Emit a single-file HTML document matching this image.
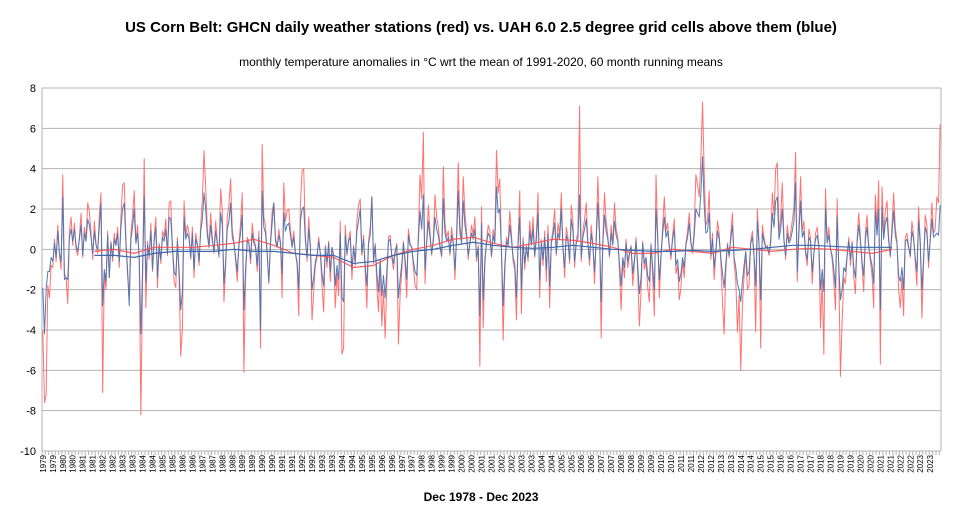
<!DOCTYPE html>
<html><head><meta charset="utf-8"><style>
body{margin:0;background:#fff;}
svg{display:block;font-family:"Liberation Sans",sans-serif;}
</style></head><body>
<svg id="chart" width="962" height="520" viewBox="0 0 962 520">
<text x="481" y="32" text-anchor="middle" font-size="15" font-weight="bold">US Corn Belt: GHCN daily weather stations (red) vs. UAH 6.0 2.5 degree grid cells above them (blue)</text>
<text x="481" y="66" text-anchor="middle" font-size="12">monthly temperature anomalies in °C wrt the mean of 1991-2020, 60 month running means</text>
<text x="481" y="501" text-anchor="middle" font-size="12" font-weight="bold">Dec 1978 - Dec 2023</text>
<g id="grid"></g>
<g id="yticks"></g>
<g id="xticks"></g>
<g id="series"></g>
</svg>
<script>
const yTicks=[8,6,4,2,0,-2,-4,-6,-8,-10];
const redRows=[
[-4.0],
[-7.6,-7.2,-1.8,-2.4,-0.8,-0.9,0.5,-0.6,1.2,-0.3,-1.0,3.7],
[-1.2,-1.4,-2.7,0.9,1.6,0.2,1.3,0.0,-0.3,0.6,1.8,-0.4],
[1.1,0.5,2.3,1.9,0.8,-0.5,1.4,0.3,-0.2,1.7,2.8,-7.1],
[-1.2,-2.0,0.9,-1.4,0.4,-0.6,0.8,0.2,1.1,-0.9,1.6,3.2],
[3.3,0.5,-1.3,-2.4,0.8,1.7,2.9,0.4,1.2,-0.6,-8.2,-1.8],
[4.5,-2.9,0.4,-0.5,1.3,-1.1,0.6,1.6,-1.9,0.3,-0.7,0.9],
[0.6,1.5,-0.3,2.3,2.4,0.1,-1.6,-1.9,0.6,-1.5,-5.3,-3.9],
[2.4,0.7,1.2,0.8,-0.5,1.1,-1.4,0.8,0.3,-0.8,1.2,2.5],
[4.9,3.1,1.0,0.2,1.8,0.6,-0.2,1.4,0.4,-0.4,3.0,1.9],
[-2.6,-0.9,1.6,2.2,3.5,1.0,0.4,-0.6,-1.6,0.3,1.3,2.8],
[-6.1,-1.5,0.6,0.4,-0.7,1.3,0.5,0.2,-1.1,0.9,-4.9,5.2],
[1.6,1.2,-0.2,-1.7,0.4,1.9,2.3,0.6,0.1,1.0,0.4,-2.4],
[3.3,1.4,1.9,2.0,1.0,0.2,0.9,-0.2,-0.8,-3.3,2.2,3.9],
[4.0,0.7,-0.6,1.6,0.2,-3.5,-2.1,-0.8,-0.4,0.6,-0.2,-1.8],
[-3.1,0.2,-0.9,0.4,-1.6,0.1,-0.4,-2.9,-1.2,-2.3,1.4,-5.2],
[-4.9,1.2,-0.3,0.5,0.9,-1.5,0.2,-0.8,1.4,2.2,2.5,-0.3],
[0.7,-1.2,-2.9,0.4,1.1,2.6,-0.7,0.3,-1.8,-3.1,-0.8,-3.8],
[-2.0,-4.4,-1.7,0.6,0.7,-0.4,-1.0,-0.2,0.3,-4.7,-2.3,-1.1],
[0.4,-0.8,-2.4,1.0,0.3,0.1,-0.9,-1.8,-2.0,0.8,3.7,2.5],
[5.8,-1.7,0.4,2.2,0.9,-0.3,0.6,2.7,1.6,1.1,0.2,-0.4],
[4.1,1.3,0.6,0.9,-0.3,1.1,0.4,-1.5,0.8,4.3,1.2,0.5],
[3.6,1.8,0.9,-0.5,0.4,1.2,0.7,1.6,-0.6,0.2,-5.8,2.1],
[-3.9,-0.8,0.4,1.2,0.9,-0.4,1.0,0.5,4.9,2.8,3.5,-0.2],
[-4.5,-1.2,0.6,0.3,1.9,0.8,-0.6,-1.0,-3.5,0.4,2.9,-3.2],
[0.6,-1.0,0.2,-0.6,1.4,0.3,1.6,-0.4,0.8,2.8,-2.4,0.5],
[-0.8,0.9,-1.6,1.2,-2.9,0.4,1.0,2.0,-0.3,1.3,0.7,2.8],
[0.1,-1.4,1.1,0.6,-0.7,2.2,1.4,-0.9,0.5,0.8,7.1,-0.6],
[0.9,1.5,2.3,0.4,-0.8,1.2,0.3,-1.7,0.6,3.6,1.1,-4.4],
[0.5,2.8,1.4,0.7,-0.4,1.2,0.3,2.3,1.0,0.6,-1.1,-3.0],
[-0.6,-1.4,0.5,-0.9,-0.3,0.2,-1.8,-0.7,0.6,-1.2,-3.8,-2.1],
[0.4,-1.0,-0.6,-1.9,-2.6,0.3,-1.4,-3.3,3.7,0.8,-2.4,-0.5],
[1.2,2.6,0.9,1.3,0.2,-0.5,0.7,1.5,-1.2,-0.8,-2.5,-1.9],
[-0.6,-1.4,0.3,0.9,1.8,0.4,-0.2,1.1,3.7,3.2,2.6,4.5],
[7.3,3.8,1.2,1.4,2.9,-0.5,0.8,-1.5,-0.2,1.4,0.8,-0.6],
[-2.6,-4.2,-1.1,0.3,-0.4,0.8,1.8,-0.7,-1.5,-4.1,-2.3,-6.0],
[-2.8,-1.3,-0.2,-2.0,-1.8,0.4,0.9,-0.4,-4.1,2.0,0.3,-4.9],
[1.2,0.6,0.1,0.2,-0.3,0.5,2.8,1.7,4.0,4.3,0.8,1.6],
[3.3,0.6,-0.5,1.2,0.4,0.8,1.4,2.1,4.8,-1.6,1.2,3.6],
[0.9,1.4,-0.2,-0.8,1.0,0.6,-1.7,-0.3,0.8,1.1,0.2,-3.9],
[-1.5,-5.2,3.0,0.4,1.1,0.0,-0.5,-1.6,-3.0,2.5,-1.2,-6.3],
[-3.6,-1.4,-1.7,-0.4,0.6,-0.8,0.4,-1.4,-2.2,0.5,1.8,0.6],
[-0.9,-2.1,0.8,1.7,0.2,-0.6,-1.3,-2.9,2.7,1.0,3.4,-5.7],
[3.1,0.8,1.9,2.4,0.6,-0.4,1.2,2.8,1.1,0.4,-2.0,-2.9],
[-1.4,-3.3,0.6,0.8,0.2,-0.4,1.4,0.7,-0.6,-1.8,2.1,0.5],
[-3.4,-0.8,1.7,1.2,-0.9,0.6,2.3,0.8,1.0,2.6,2.3,6.2]
];
const blueRows=[
[-1.9],
[-4.2,-2.0,-1.1,-1.1,-0.4,-0.6,0.3,-0.4,0.9,-0.2,-0.6,2.6],
[-1.5,-1.4,-1.5,0.6,1.0,0.4,1.0,0.2,-0.1,0.5,1.2,-0.3],
[0.8,0.4,1.5,1.2,0.6,-0.2,0.9,0.2,0.0,1.1,2.3,-2.8],
[-1.0,-1.6,0.7,-1.4,0.3,-0.4,0.5,0.2,0.8,-0.6,1.1,2.0],
[2.3,0.3,-1.0,-2.8,0.5,1.1,2.0,0.3,0.8,-0.4,-4.2,-1.0],
[2.6,-1.6,0.2,-0.3,0.9,-1.0,0.4,1.1,-1.4,0.2,-0.5,0.6],
[0.4,1.0,-0.2,1.6,1.5,0.1,-1.1,-1.3,0.4,-1.0,-3.0,-2.1],
[1.6,0.5,0.8,0.5,-0.4,0.8,-1.0,0.5,0.2,-0.6,0.9,1.5],
[2.8,2.0,0.7,0.1,1.2,0.4,-0.1,0.9,0.3,-0.3,1.8,1.2],
[-1.7,-0.6,1.0,1.4,2.3,0.6,0.3,-0.4,-1.1,0.2,0.8,1.7],
[-3.0,-1.0,0.4,0.3,-0.5,0.8,0.3,0.1,-0.8,0.6,-4.0,2.9],
[1.1,0.8,-0.2,-1.6,0.3,1.3,2.3,0.4,0.1,0.7,0.3,-1.2],
[1.8,0.9,1.2,1.3,0.7,0.1,0.6,-0.2,-0.6,-2.0,1.4,2.0],
[2.1,0.4,-0.4,1.0,0.1,-2.0,-1.4,-0.6,-0.3,0.4,-0.2,-1.2],
[-1.8,0.1,-0.6,0.3,-1.1,0.1,-0.3,-1.8,-0.8,-1.5,0.8,-2.4],
[-2.6,0.7,-0.2,0.4,0.6,-1.0,0.1,-0.6,0.9,1.4,2.0,-0.2],
[0.5,-0.8,-1.8,0.3,0.7,2.6,-0.5,0.2,-1.2,-2.1,-0.5,-2.3],
[-1.3,-2.4,-1.1,0.4,0.5,-0.3,-0.7,-0.1,0.2,-2.4,-1.5,-0.7],
[0.3,-0.5,-1.5,0.7,0.2,0.1,-0.6,-1.1,-1.3,0.5,1.9,1.0],
[2.7,-1.0,0.3,1.4,0.6,-0.2,0.4,1.6,1.0,0.7,0.1,-0.3],
[2.5,0.8,0.4,0.6,-0.2,0.7,0.3,-1.0,0.5,2.9,0.8,0.3],
[2.4,1.2,0.6,-0.3,0.3,0.8,0.5,1.0,-0.4,0.1,-3.3,1.3],
[-2.5,-0.5,0.3,0.8,0.6,-0.3,0.7,0.3,3.1,1.8,2.0,-0.1],
[-2.8,-0.8,0.4,0.2,1.2,0.5,-0.4,-0.7,-2.4,0.3,1.6,-2.0],
[0.4,-0.7,0.1,-0.4,0.9,0.2,1.0,-0.3,0.5,1.8,-1.5,0.3],
[-0.5,0.6,-1.0,0.8,-1.8,0.3,0.7,1.3,-0.2,0.8,0.5,2.0],
[0.1,-0.9,0.7,0.4,-0.5,1.5,0.9,-0.6,0.3,0.5,2.7,-0.4],
[0.6,1.0,1.5,0.3,-0.5,0.8,0.2,-1.1,0.4,2.3,0.7,-2.6],
[0.3,1.7,0.9,0.5,-0.3,0.8,0.2,1.4,0.7,0.4,-0.7,-1.8],
[-0.4,-0.9,0.3,-0.6,-0.2,0.1,-1.2,-0.5,0.4,-0.8,-2.2,-1.4],
[0.3,-0.7,-0.4,-1.3,-1.6,0.2,-0.9,-2.0,2.0,0.5,-1.5,-0.3],
[0.8,1.6,0.6,0.9,0.1,-0.3,0.5,1.0,-0.8,-0.5,-1.6,-1.2],
[-0.4,-0.9,0.2,0.6,1.3,0.3,-0.1,0.7,2.0,1.8,1.6,2.8],
[4.6,2.2,0.8,0.9,1.8,-0.3,0.5,-0.9,-0.1,0.9,0.5,-0.4],
[-1.2,-1.9,-0.7,0.2,-0.3,0.5,1.2,-0.4,-0.9,-1.7,-2.0,-2.6],
[-1.6,-0.8,-0.1,-1.3,-1.1,0.3,0.6,-0.3,-1.8,1.4,0.2,-2.5],
[0.8,0.4,0.1,0.1,-0.2,0.3,1.8,1.1,2.4,2.6,0.5,1.0],
[2.0,0.4,-0.3,0.8,0.3,0.5,0.9,1.4,3.3,-1.1,0.8,2.4],
[0.6,0.9,-0.1,-0.5,0.6,0.4,-1.1,-0.2,0.5,0.7,0.1,-2.0],
[-1.0,-2.1,2.0,0.3,0.7,0.0,-0.3,-1.0,-1.9,1.6,-0.8,-2.5],
[-2.0,-0.9,-1.1,-0.3,0.4,-0.5,0.3,-0.9,-1.4,0.3,1.2,0.4],
[-0.6,-1.3,0.5,1.1,0.1,-0.4,-0.8,-1.7,1.9,0.7,2.0,-3.0],
[2.1,0.5,1.3,1.6,0.4,-0.3,0.8,1.9,0.7,0.3,-1.3,-1.6],
[-0.9,-2.0,0.4,0.5,0.1,-0.3,0.9,0.5,-0.4,-1.1,1.4,0.3],
[-2.0,-0.5,1.1,0.8,-0.6,0.4,1.5,0.6,0.7,0.8,0.7,2.2]
];
const meanYears=[1981,1982,1983,1984,1985,1986,1987,1988,1989,1990,1991,1992,1993,1994,1995,1996,1997,1998,1999,2000,2001,2002,2003,2004,2005,2006,2007,2008,2009,2010,2011,2012,2013,2014,2015,2016,2017,2018,2019,2020,2021];
const redMean=[-0.1,0.0,-0.2,0.1,0.1,0.1,0.2,0.3,0.5,0.2,-0.2,-0.3,-0.4,-0.9,-0.8,-0.3,0.0,0.2,0.5,0.6,0.3,0.1,0.3,0.5,0.45,0.3,0.1,-0.2,-0.2,0.0,-0.1,-0.2,0.1,0.0,-0.1,0.0,0.05,0.0,-0.1,-0.2,0.0];
const blueMean=[-0.3,-0.3,-0.4,-0.2,-0.1,-0.1,-0.1,0.0,-0.1,-0.1,-0.2,-0.3,-0.3,-0.7,-0.6,-0.3,-0.1,0.0,0.2,0.35,0.2,0.1,0.05,0.1,0.2,0.1,0.0,-0.05,-0.1,-0.1,-0.05,-0.1,-0.05,0.0,0.1,0.2,0.2,0.15,0.1,0.1,0.1];

const red=[].concat(...redRows), blue=[].concat(...blueRows);
const N=red.length;
const X0=42,X1=941,Y0=88,Y1=451,VMAX=8,VMIN=-10;
const xs=i=>X0+(i+0.5)*(X1-X0)/N;
const ys=v=>Y0+(VMAX-v)*(Y1-Y0)/(VMAX-VMIN);
const yearIdx=y=>1+(y-1979)*12+6;
const NS='http://www.w3.org/2000/svg';
function mk(tag,attrs,parent){const e=document.createElementNS(NS,tag);for(const k in attrs)e.setAttribute(k,attrs[k]);parent.appendChild(e);return e;}
const grid=document.getElementById('grid'),yt=document.getElementById('yticks'),xt=document.getElementById('xticks'),ser=document.getElementById('series');
yTicks.forEach(v=>{
  const l=mk('line',{x1:X0,x2:X1,y1:ys(v),y2:ys(v),stroke:'#b3b3b3','stroke-width':1},grid);
  
  
  const t=mk('text',{x:36,y:ys(v)+4,'text-anchor':'end','font-size':11},yt);
  t.textContent=v;
  
  
});
const ax=mk('line',{x1:X0,x2:X0,y1:Y0,y2:Y1+4,stroke:'#b3b3b3','stroke-width':1},grid);


const rb=mk('line',{x1:X1,x2:X1,y1:Y0,y2:Y1,stroke:'#b3b3b3','stroke-width':1},grid);


for(let i=0;i<=N;i+=2){const x=X0+i*(X1-X0)/N;mk('line',{x1:x,x2:x,y1:Y1,y2:Y1+4,stroke:'#b3b3b3','stroke-width':1},grid);}
for(let k=0;k<90;k++){
  const x=xs(k*6);
  const t=mk('text',{x:0,y:0,'font-size':8,transform:`translate(${x+3},${Y1+4}) rotate(-90)`,'text-anchor':'end'},xt);
  t.textContent=1979+Math.floor(k/2);
  
  
}
function line(vals,idx,color,w,name,op){
  const d=vals.map((v,j)=>(j?'L':'M')+idx(j).toFixed(2)+','+ys(v).toFixed(2)).join('');
  const p=mk('path',{d:d,fill:'none',stroke:color,'stroke-width':w,'stroke-linejoin':'round','stroke-opacity':op},ser);
  
  
}
line(red,xs,'#ff5959',1.0,'red-station-series',0.85);
line(blue,xs,'#4a74b0',1.0,'blue-uah-series',0.95);
line(redMean,j=>xs(yearIdx(meanYears[j])),'#ff4d4d',1.2,'red-running-mean',0.9);
line(blueMean,j=>xs(yearIdx(meanYears[j])),'#3d68aa',1.2,'blue-running-mean',1);
</script>
</body></html>
